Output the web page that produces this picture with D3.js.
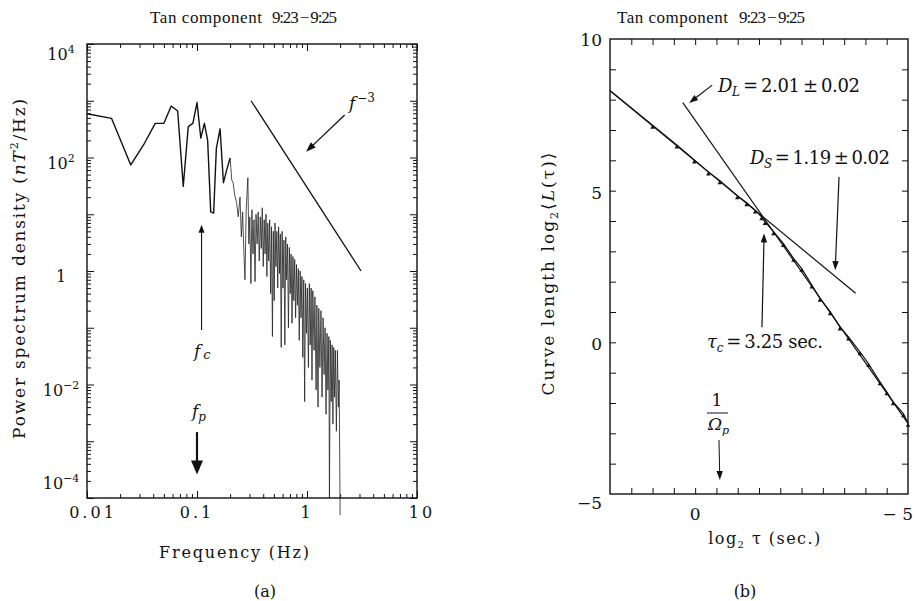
<!DOCTYPE html>
<html><head><meta charset="utf-8">
<script src="https://cdn.jsdelivr.net/npm/d3@7"></script>
<style>
body{margin:0;background:#fff}
svg{display:block}
text{font-family:"DejaVu Serif","Liberation Serif",serif;fill:#111}
text.ttl{font-family:"Liberation Serif","DejaVu Serif",serif}
</style>
</head><body>
<svg id="c" width="917" height="601"></svg>
<script>
// ---------- Panel (a): power spectrum ----------
const specFreq = [
 0.01,0.0167,0.025,0.0333,0.0417,0.05,0.0583,0.0667,0.075,0.0833,
 0.0917,0.1,0.1083,0.1167,0.125,0.1333,0.1417,0.15,0.162,0.174,
 0.186,0.200,0.207,0.213,0.220,0.229,0.237,0.246,0.253,0.260,
 0.266,0.273,0.280,0.290,0.296,0.302,0.309,0.316,0.323,0.330,
 0.337,0.344,0.352,0.360,0.368,0.376,0.384,0.392,0.400,0.408,
 0.416,0.424,0.432,0.440,0.449,0.458,0.467,0.476,0.485,0.494,
 0.503,0.512,0.522,0.532,0.542,0.552,0.562,0.572,0.583,0.594,
 0.605,0.617,0.629,0.641,0.653,0.665,0.678,0.691,0.704,0.717,
 0.731,0.745,0.759,0.773,0.788,0.803,0.818,0.834,0.850,0.866,
 0.882,0.899,0.916,0.934,0.952,0.970,0.989,1.008,1.03,1.05,
 1.07,1.09,1.11,1.13,1.16,1.18,1.21,1.23,1.26,1.28,
 1.31,1.34,1.37,1.40,1.43,1.46,1.49,1.52,1.55,1.58,
 1.60,1.63,1.66,1.69,1.72,1.75,1.78,1.81,1.85,1.89,
 1.93,1.96,2.00];
const specPsd = [
 590,490,74,178,400,400,810,660,31,350,
 400,930,220,400,200,11,10.5,145,320,36,
 60,98,40,36,22,16,9,20,4,11,
 2.5,0.7,12,44,3,9,0.6,12,2,8,
 0.65,10,3,11,1.5,9,2.5,13,1.2,8,
 2,10,0.8,7,1.5,8,0.4,6,0.07,5,
 0.3,7,1.2,5,0.5,6,0.9,4.5,0.045,5,
 0.5,3.5,0.05,4,0.7,3,0.1,2.6,0.4,2,
 0.12,1.8,0.3,1.6,0.15,1.3,0.25,1.1,0.06,1.0,
 0.15,0.8,0.03,0.7,0.005,0.6,0.08,0.5,0.02,0.6,
 0.05,0.5,0.012,0.45,0.04,0.35,0.008,0.25,0.004,0.22,
 0.02,0.2,0.006,0.15,0.015,0.1,0.003,0.08,0.008,0.07,
 0.0001,0.06,0.005,0.05,0.002,0.045,0.006,0.04,0.0015,0.04,
 0.004,0.012,0.00005];
const slopeF = [0.31, 3.1];       // f^-3 reference line
const slopeP = [1000, 1];
const leftXTicks = [0.01, 0.1, 1, 10];
const leftXLabels = ["0.01", "0.1", "1", "10"];
const leftYTicks = [1e4, 1e2, 1, 1e-2, 1e-4];
const leftYExps = [4, 2, 0, -2, -4];
const fcArrow = [[0.11, 0.091], [0.11, 6.5]];
const fpArrow = [[0.1, 0.00145], [0.1, 0.00026]];
const slopeArrow = [[2.2, 560], [0.98, 126]];

// ---------- Panel (b): curve length ----------
const tauLog2 = [-2.0,-1.00,-0.43,-0.02,0.31,0.58,0.99,1.21,1.41,1.56,1.64,1.84,2.07,2.31,2.50,2.74,2.93,3.17,3.40,3.60,3.87,4.07,4.34,4.50,4.65,4.89,5.00];
const lenLog2 = [8.30,7.16,6.51,6.01,5.62,5.33,4.83,4.60,4.36,4.14,3.98,3.65,3.26,2.77,2.44,1.89,1.45,1.01,0.51,0.18,-0.31,-0.70,-1.30,-1.63,-1.96,-2.35,-2.67];
const fitSX = [-2.0, 3.77], fitSY = [8.29, 1.62];   // D_S fit
const fitLX = [-0.29, 5.0], fitLY = [7.90, -2.67];  // D_L fit
const rightXTickLabels = [[0, "0"], [5, "\u2212 5"]];
const rightYTickLabels = [10, 5, 0, -5];
const dlArrow = [[0.40, 8.48], [-0.14, 7.89]];
const dsArrow = [[3.38, 5.45], [3.29, 2.38]];
const tcArrow = [[1.57, 0.50], [1.62, 3.59]];
const qpArrow = [[0.56, -3.22], [0.58, -4.54]];

const svg = d3.select("#c");
const INK = "#111";

function arrow(g, p1, p2, o = {}) {
  const len = o.len || 9, wid = o.wid || 3.2, sw = o.sw || 1.2;
  const dx = p2[0]-p1[0], dy = p2[1]-p1[1], d = Math.hypot(dx, dy);
  const ux = dx/d, uy = dy/d;
  const bx = p2[0]-ux*len, by = p2[1]-uy*len;
  g.append("line").attr("x1", p1[0]).attr("y1", p1[1]).attr("x2", bx+ux*1).attr("y2", by+uy*1)
    .attr("stroke", INK).attr("stroke-width", sw);
  g.append("path").attr("d", `M${p2[0]},${p2[1]}L${bx-uy*wid},${by+ux*wid}L${bx+uy*wid},${by-ux*wid}Z`)
    .attr("fill", INK);
}
function fitWidth(sel, target) {
  const node = sel.node();
  const w = node.getComputedTextLength();
  const n = node.textContent.length;
  if (n > 1) sel.attr("letter-spacing", ((target - w) / (n - 1)).toFixed(2));
}

// ===== Panel (a) =====
const xL = d3.scaleLog().domain([0.01, 10]).range([87, 417]);
const yL = d3.scaleLog().domain([1e-4, 1e4]).range([498, 44]);
const gA = svg.append("g");

function minorLog(dom) {
  const out = [];
  const a = Math.round(Math.log10(dom[0])), b = Math.round(Math.log10(dom[1]));
  for (let e = a; e < b; e++) for (let m = 2; m <= 9; m++) out.push(m * Math.pow(10, e));
  return out;
}
function majorLog(dom) {
  const out = [];
  const a = Math.round(Math.log10(dom[0])), b = Math.round(Math.log10(dom[1]));
  for (let e = a; e <= b; e++) out.push(Math.pow(10, e));
  return out;
}
function drawAxis(g, axisFn, scale, values, size, transform) {
  const ax = g.append("g").attr("transform", transform)
    .call(axisFn(scale).tickValues(values).tickSizeInner(size).tickSizeOuter(0).tickFormat(""));
  ax.select(".domain").remove();
  ax.selectAll("line").attr("stroke", INK).attr("stroke-width", 1);
}
drawAxis(gA, d3.axisBottom, xL, minorLog(xL.domain()), -4, "translate(0,498)");
drawAxis(gA, d3.axisBottom, xL, majorLog(xL.domain()), -7, "translate(0,498)");
drawAxis(gA, d3.axisTop, xL, minorLog(xL.domain()), -4, "translate(0,44)");
drawAxis(gA, d3.axisTop, xL, majorLog(xL.domain()), -7, "translate(0,44)");
drawAxis(gA, d3.axisLeft, yL, minorLog(yL.domain()), -4, "translate(87,0)");
drawAxis(gA, d3.axisLeft, yL, majorLog(yL.domain()), -7, "translate(87,0)");
drawAxis(gA, d3.axisRight, yL, minorLog(yL.domain()), -4, "translate(417,0)");
drawAxis(gA, d3.axisRight, yL, majorLog(yL.domain()), -7, "translate(417,0)");
gA.append("rect").attr("x", 87).attr("y", 44).attr("width", 330).attr("height", 454)
  .attr("fill", "none").attr("stroke", INK).attr("stroke-width", 1.4);

const specPts = specFreq.map((f, i) => [f, specPsd[i]]);
const splitIdx = specFreq.indexOf(0.200);
gA.append("path").datum(specPts.slice(0, splitIdx + 1))
  .attr("d", d3.line().x(d => xL(d[0])).y(d => yL(d[1])))
  .attr("fill", "none").attr("stroke", INK).attr("stroke-width", 1.4).attr("stroke-linejoin", "round");
gA.append("path").datum(specPts.slice(splitIdx))
  .attr("d", d3.line().x(d => xL(d[0])).y(d => yL(d[1])))
  .attr("fill", "none").attr("stroke", "#222").attr("stroke-width", 0.8).attr("stroke-linejoin", "miter");
gA.append("line").attr("x1", xL(slopeF[0])).attr("y1", yL(slopeP[0])).attr("x2", xL(slopeF[1])).attr("y2", yL(slopeP[1]))
  .attr("stroke", INK).attr("stroke-width", 1.3);

leftXTicks.forEach((v, i) => {
  const dx = i === 0 ? 6 : (i === leftXTicks.length - 1 ? 5 : 0);
  gA.append("text").attr("x", xL(v) + dx).attr("y", 518).attr("text-anchor", "middle")
    .attr("font-size", 16).attr("letter-spacing", 3).text(leftXLabels[i]);
});
leftYTicks.forEach((v, i) => {
  const e = leftYExps[i];
  const off = i === 0 ? 16 : (i === leftYTicks.length - 1 ? -9 : 11);
  const t = gA.append("text").attr("x", 61).attr("y", yL(v) + off).attr("text-anchor", "middle").attr("font-size", 16);
  if (e === 0) t.text("1");
  else {
    t.append("tspan").text("10");
    t.append("tspan").attr("dy", -7).attr("font-size", 11).text(e < 0 ? "\u2212" + (-e) : String(e));
  }
});

arrow(gA, [xL(fcArrow[0][0]), yL(fcArrow[0][1])], [xL(fcArrow[1][0]), yL(fcArrow[1][1])], {len: 8, wid: 3, sw: 1.1});
arrow(gA, [xL(fpArrow[0][0]), yL(fpArrow[0][1])], [xL(fpArrow[1][0]), yL(fpArrow[1][1])], {len: 14, wid: 6, sw: 2.2});
arrow(gA, [xL(slopeArrow[0][0]), yL(slopeArrow[0][1])], [xL(slopeArrow[1][0]), yL(slopeArrow[1][1])], {len: 10, wid: 3.5, sw: 1.3});

const fc = gA.append("text").attr("x", 194).attr("y", 357).attr("font-size", 17);
fc.append("tspan").attr("font-style", "italic").text("f");
fc.append("tspan").attr("dx", 3).attr("dy", 2).attr("font-size", 13).attr("font-style", "italic").text("c");
const fp = gA.append("text").attr("x", 192).attr("y", 417).attr("font-size", 17);
fp.append("tspan").attr("font-style", "italic").text("f");
fp.append("tspan").attr("dx", 0).attr("dy", 4).attr("font-size", 12).attr("font-style", "italic").text("p");
const fm3 = gA.append("text").attr("x", 349).attr("y", 109).attr("font-size", 17);
fm3.append("tspan").attr("font-style", "italic").text("f");
fm3.append("tspan").attr("dx", 2).attr("dy", -7).attr("font-size", 12).text("\u22123");

const tA1 = gA.append("text").attr("class", "ttl").attr("x", 150).attr("y", 23).attr("font-size", 17).text("Tan component");
fitWidth(tA1, 112);
const tA2 = gA.append("text").attr("class", "ttl").attr("x", 272).attr("y", 23).attr("font-size", 17).text("9:23\u2009\u2212\u20099:25");
fitWidth(tA2, 65);
const yA = gA.append("text").attr("transform", "translate(25,268) rotate(-90)").attr("text-anchor", "middle").attr("font-size", 17);
yA.append("tspan").text("Power spectrum density (");
yA.append("tspan").attr("font-style", "italic").text("nT");
yA.append("tspan").attr("dy", -7).attr("font-size", 11).text("2");
yA.append("tspan").attr("dy", 7).text("/Hz)");
fitWidth(yA, 340);
const xA = gA.append("text").attr("x", 235).attr("y", 558).attr("text-anchor", "middle").attr("font-size", 16).text("Frequency (Hz)");
fitWidth(xA, 150);
gA.append("text").attr("x", 265).attr("y", 597).attr("text-anchor", "middle").attr("font-size", 16).text("(a)");

// ===== Panel (b) =====
const xR = d3.scaleLinear().domain([-2, 5]).range([610, 908]);
const yR = d3.scaleLinear().domain([-5, 10]).range([494, 39]);
const gB = svg.append("g");
const xHalf = d3.range(-1.5, 5, 0.5);
const yOne = d3.range(-4, 10, 1);
drawAxis(gB, d3.axisBottom, xR, xHalf, -6, "translate(0,494)");
drawAxis(gB, d3.axisTop, xR, xHalf, -6, "translate(0,39)");
drawAxis(gB, d3.axisLeft, yR, yOne, -6, "translate(610,0)");
drawAxis(gB, d3.axisRight, yR, yOne, -6, "translate(908,0)");
gB.append("rect").attr("x", 610).attr("y", 39).attr("width", 298).attr("height", 455)
  .attr("fill", "none").attr("stroke", INK).attr("stroke-width", 1.4);

const lenPts = tauLog2.map((t, i) => [t, lenLog2[i]]);
gB.append("path").datum(lenPts).attr("d", d3.line().x(d => xR(d[0])).y(d => yR(d[1])))
  .attr("fill", "none").attr("stroke", INK).attr("stroke-width", 1.2);
gB.append("line").attr("x1", xR(fitSX[0])).attr("y1", yR(fitSY[0])).attr("x2", xR(fitSX[1])).attr("y2", yR(fitSY[1]))
  .attr("stroke", INK).attr("stroke-width", 1.2);
gB.append("line").attr("x1", xR(fitLX[0])).attr("y1", yR(fitLY[0])).attr("x2", xR(fitLX[1])).attr("y2", yR(fitLY[1]))
  .attr("stroke", INK).attr("stroke-width", 1.2);
gB.selectAll("path.mk").data(lenPts.slice(1)).enter().append("path").attr("class", "mk")
  .attr("d", d3.symbol(d3.symbolTriangle).size(9))
  .attr("transform", d => `translate(${xR(d[0])},${yR(d[1]) + 2.2})`)
  .attr("fill", INK);

rightYTickLabels.forEach(v => {
  const off = v === -5 ? 15 : (v === 10 ? 7 : 8);
  gB.append("text").attr("x", 602).attr("y", yR(v) + off).attr("text-anchor", "end").attr("font-size", 17)
    .text(v < 0 ? "\u2212" + (-v) : String(v));
});
rightXTickLabels.forEach(([v, s]) => {
  gB.append("text").attr("x", v === 5 ? 913 : xR(v)).attr("y", 520).attr("text-anchor", v === 5 ? "end" : "middle")
    .attr("font-size", 17).text(s);
});

arrow(gB, [xR(dlArrow[0][0]), yR(dlArrow[0][1])], [xR(dlArrow[1][0]), yR(dlArrow[1][1])], {len: 9, wid: 3.2});
arrow(gB, [xR(dsArrow[0][0]), yR(dsArrow[0][1])], [xR(dsArrow[1][0]), yR(dsArrow[1][1])], {len: 9, wid: 3.2});
arrow(gB, [xR(tcArrow[0][0]), yR(tcArrow[0][1])], [xR(tcArrow[1][0]), yR(tcArrow[1][1])], {len: 9, wid: 3.2});
arrow(gB, [xR(qpArrow[0][0]), yR(qpArrow[0][1])], [xR(qpArrow[1][0]), yR(qpArrow[1][1])], {len: 9, wid: 3.2, sw: 1});

function eqLabel(x, y, sym, sub, rest, target) {
  const t = gB.append("text").attr("x", x).attr("y", y).attr("font-size", 18);
  t.append("tspan").attr("font-style", "italic").text(sym);
  t.append("tspan").attr("dy", 4).attr("font-size", 12).attr("font-style", "italic").text(sub);
  t.append("tspan").attr("dy", -4).text(rest);
  fitWidth(t, target);
  return t;
}
eqLabel(718, 92, "D", "L", "\u2009=\u20092.01\u2009\u00b1\u20090.02", 142);
eqLabel(750, 164, "D", "S", "\u2009=\u20091.19\u2009\u00b1\u20090.02", 140);
eqLabel(707, 348, "\u03c4", "c", "\u2009=\u20093.25 sec.", 116);

gB.append("text").attr("x", 717).attr("y", 406).attr("text-anchor", "middle").attr("font-size", 17).text("1");
gB.append("line").attr("x1", 707).attr("x2", 728).attr("y1", 413).attr("y2", 413).attr("stroke", INK).attr("stroke-width", 1);
const qp = gB.append("text").attr("x", 708).attr("y", 430).attr("font-size", 17);
qp.append("tspan").attr("font-style", "italic").text("\u03a9");
qp.append("tspan").attr("dy", 4).attr("font-size", 11).attr("font-style", "italic").text("p");

const tB1 = gB.append("text").attr("class", "ttl").attr("x", 617).attr("y", 23).attr("font-size", 17).text("Tan component");
fitWidth(tB1, 111);
const tB2 = gB.append("text").attr("class", "ttl").attr("x", 739).attr("y", 23).attr("font-size", 17).text("9:23\u2009\u2212\u20099:25");
fitWidth(tB2, 66);

const yB = gB.append("text").attr("transform", "translate(554,273) rotate(-90)").attr("text-anchor", "middle").attr("font-size", 17);
yB.append("tspan").text("Curve length log");
yB.append("tspan").attr("dy", 4).attr("font-size", 11).text("2");
yB.append("tspan").attr("dy", -4).text("\u27e8");
yB.append("tspan").attr("font-style", "italic").text("L");
yB.append("tspan").text("(\u03c4)\u27e9");
fitWidth(yB, 243);

const xB = gB.append("text").attr("x", 765).attr("y", 544).attr("text-anchor", "middle").attr("font-size", 16);
xB.append("tspan").text("log");
xB.append("tspan").attr("dy", 4).attr("font-size", 10).text("2");
xB.append("tspan").attr("dy", -4).text(" \u03c4 (sec.)");
fitWidth(xB, 112);
gB.append("text").attr("x", 745).attr("y", 597).attr("text-anchor", "middle").attr("font-size", 16).text("(b)");
</script>
</body></html>
